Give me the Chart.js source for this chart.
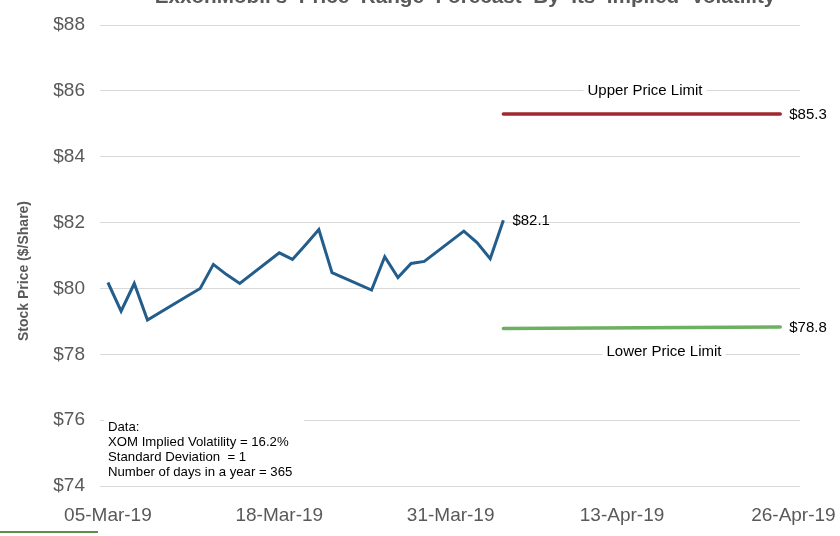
<!DOCTYPE html>
<html>
<head>
<meta charset="utf-8">
<script src="https://cdn.jsdelivr.net/npm/chart.js@4.4.0/dist/chart.umd.min.js"></script>
<style>
html,body{margin:0;padding:0;background:#fff;}
#wrap{width:840px;height:536px;position:relative;}
</style>
</head>
<body>
<div id="wrap"><canvas id="c" width="840" height="536"></canvas></div>
<script>
// ---- data ----
const priceDates = ['2019-03-05','2019-03-06','2019-03-07','2019-03-08','2019-03-11','2019-03-12','2019-03-13','2019-03-14','2019-03-15',
  '2019-03-18','2019-03-19','2019-03-20','2019-03-21','2019-03-22','2019-03-25','2019-03-26','2019-03-27','2019-03-28','2019-03-29',
  '2019-04-01','2019-04-02','2019-04-03','2019-04-04'];
const prices = [80.18,79.31,80.15,79.04,79.76,80.0,80.73,80.42,80.15,81.08,80.88,81.33,81.79,80.48,79.95,80.96,80.33,80.76,80.82,81.74,81.39,80.9,82.07];
const limitDates = ['2019-04-04','2019-04-25'];
const upperLimit = [85.3,85.3];
const lowerLimit = [78.78,78.83];
const tickDates = ['2019-03-05','2019-03-18','2019-03-31','2019-04-13','2019-04-26'];
const tickLabels = ['05-Mar-19','18-Mar-19','31-Mar-19','13-Apr-19','26-Apr-19'];
const yTicks = [74,76,78,80,82,84,86,88];
const title = "ExxonMobil's  Price  Range  Forecast  By  Its  Implied  Volatility";
const yTitle = 'Stock Price ($/Share)';
const noteLines = ['Data:','XOM Implied Volatility = 16.2%','Standard Deviation  = 1','Number of days in a year = 365'];
const upperLabel = 'Upper Price Limit';
const lowerLabel = 'Lower Price Limit';

const base = Date.UTC(2019,2,5);
const day = s => { const p = s.split('-').map(Number); return (Date.UTC(p[0],p[1]-1,p[2]) - base)/86400000; };
const tickOffsets = tickDates.map(day);

const FONT = "'Liberation Sans', Arial, sans-serif";
const GREY = '#595959';

const deco = {
  id:'deco',
  afterDraw(chart){
    const ctx = chart.ctx, ys = chart.scales.y;
    ctx.save();
    // title (cut off at top)
    ctx.fillStyle = GREY;
    ctx.font = 'bold 20.7px ' + FONT;
    ctx.textAlign = 'center'; ctx.textBaseline = 'alphabetic';
    ctx.fillText(title, 465, 3);
    // y title
    ctx.save();
    ctx.translate(24, 271); ctx.rotate(-Math.PI/2);
    ctx.font = 'bold 14px ' + FONT; ctx.fillStyle = GREY;
    ctx.textBaseline = 'middle';
    ctx.fillText(yTitle, 0, 0);
    ctx.restore();
    // note box
    ctx.fillStyle = '#fff';
    ctx.fillRect(104, 414, 200, 66);
    ctx.fillStyle = '#000';
    ctx.font = '13.2px ' + FONT;
    ctx.textAlign = 'left'; ctx.textBaseline = 'middle';
    noteLines.forEach((t,i)=> ctx.fillText(t, 108, 427 + i*15.2));
    // limit labels with white background on gridlines
    ctx.font = '15px ' + FONT;
    ctx.textAlign = 'center';
    const drawBoxed = (txt, cx, cy) => {
      const w = ctx.measureText(txt).width + 8;
      ctx.fillStyle = '#fff'; ctx.fillRect(cx - w/2, cy - 9, w, 18);
      ctx.fillStyle = '#000'; ctx.fillText(txt, cx, cy);
    };
    drawBoxed(upperLabel, 645, ys.getPixelForValue(86));
    drawBoxed(lowerLabel, 664, ys.getPixelForValue(78) - 2);
    // value labels at series ends
    ctx.textAlign = 'left';
    ctx.fillStyle = '#000';
    const endLabel = (di, val, dx, dy) => {
      const pts = chart.getDatasetMeta(di).data;
      const p = pts[pts.length-1];
      ctx.fillText('$' + val.toFixed(1), p.x + dx, p.y + dy);
    };
    endLabel(0, prices[prices.length-1], 9, 1);
    endLabel(1, upperLimit[upperLimit.length-1], 9, 1);
    endLabel(2, lowerLimit[lowerLimit.length-1], 9, 1);
    // legend fragment at the bottom
    ctx.strokeStyle = '#5A8F4C'; ctx.lineWidth = 2;
    ctx.beginPath(); ctx.moveTo(0, 532); ctx.lineTo(98, 532); ctx.stroke();
    ctx.restore();
  }
};

new Chart(document.getElementById('c'), {
  type:'line',
  data:{
    datasets:[
      {label:'XOM', data: priceDates.map((d,i)=>({x:day(d), y:prices[i]})), borderColor:'#235D8C', borderWidth:3, pointRadius:0, tension:0, borderJoinStyle:'miter'},
      {label:'Upper', data: limitDates.map((d,i)=>({x:day(d), y:upperLimit[i]})), borderColor:'#A0282E', borderWidth:3.5, pointRadius:0, tension:0, borderCapStyle:'round'},
      {label:'Lower', data: limitDates.map((d,i)=>({x:day(d), y:lowerLimit[i]})), borderColor:'#6DB062', borderWidth:3.5, pointRadius:0, tension:0, borderCapStyle:'round'}
    ]
  },
  options:{
    responsive:false, animation:false, devicePixelRatio:1,
    layout:{padding:{top:25, right:40, bottom:0, left:0}},
    plugins:{legend:{display:false}, tooltip:{enabled:false}, title:{display:false}},
    scales:{
      x:{type:'linear', min:-0.6, max:52.5,
        afterBuildTicks(s){ s.ticks = tickOffsets.map(v=>({value:v})); },
        afterFit(s){ s.height = 50; s.paddingLeft = 0; s.paddingRight = 0; },
        grid:{display:false}, border:{display:false},
        ticks:{autoSkip:false, maxRotation:0, padding:10, color:GREY, font:{family:FONT, size:19},
          callback:(v)=>{ const i = tickOffsets.indexOf(v); return i>=0 ? tickLabels[i] : ''; }}
      },
      y:{min:yTicks[0], max:yTicks[yTicks.length-1],
        afterBuildTicks(s){ s.ticks = yTicks.map(v=>({value:v})); },
        afterFit(s){ s.width = 100; s.paddingTop = 0; s.paddingBottom = 0; },
        grid:{color:'#D9D9D9', lineWidth:1, drawTicks:false}, border:{display:false},
        ticks:{padding:15, color:GREY, font:{family:FONT, size:19}, callback:v=>'$'+v}
      }
    }
  },
  plugins:[deco]
});
</script>
</body>
</html>
